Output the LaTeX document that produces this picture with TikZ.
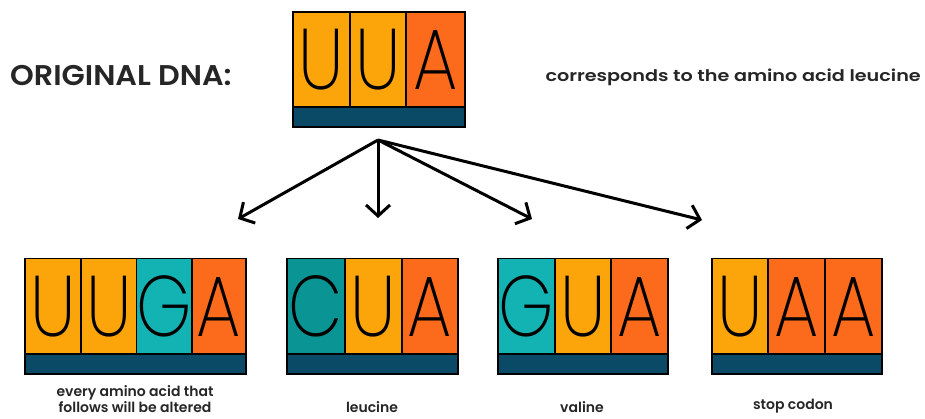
\documentclass[tikz,border=0pt]{standalone}
\usepackage{fontspec}
\setmainfont{Poppins}
\newfontfamily\letterfont[FakeStretch=0.82]{Poppins ExtraLight}
\newfontfamily\labelfont{Poppins SemiBold}
\newfontfamily\widelabelfont[FakeStretch=1.2]{Poppins SemiBold}
\newfontfamily\titlefont[FakeStretch=1.06]{Poppins SemiBold}
\usetikzlibrary{arrows.meta}
\definecolor{cOr}{HTML}{FBA50A}
\definecolor{cRd}{HTML}{FC6A1C}
\definecolor{cTl}{HTML}{14B3B3}
\definecolor{cTd}{HTML}{0B9494}
\definecolor{cBd}{HTML}{0B4A66}
\tikzset{
  cell/.style={draw=black, line width=1.3pt, inner sep=0pt, minimum height=95pt,
    text height=60pt, text depth=0pt,
    font=\letterfont\fontsize{86}{86}\selectfont},
  band/.style={draw=black, line width=1.3pt, fill=cBd, inner sep=0pt, minimum height=20pt},
  caplabel/.style={font=\labelfont\fontsize{14}{16}\selectfont, align=center, text=black!85, inner sep=0pt},
  branch/.style={line width=3pt, -{Straight Barb[length=11pt, width=24pt, line width=3pt]}}
}
\begin{document}
\begin{tikzpicture}[x=1pt,y=-1pt]
\useasboundingbox[fill=white] (0,0) rectangle (925,418);
% top codon
\node[cell, fill=cOr, minimum width=57pt] (t1) at (321.5,59.5) {U};
\node[cell, fill=cOr, minimum width=56pt] (t2) at (378,59.5) {U};
\node[cell, fill=cRd, minimum width=59pt] (t3) at (435.5,59.5) {A};
\node[band, minimum width=172pt] (tb) at (379,117) {};
\node[font=\titlefont\fontsize{28.5}{32}\selectfont, anchor=west, text=black!85, inner sep=0pt] (orig) at (10,76) {ORIGINAL DNA:};
\node[font=\widelabelfont\fontsize{16}{20}\selectfont, anchor=east, text=black!85, inner sep=0pt] (corr) at (921,77) {corresponds to the amino acid leucine};
% box 1
\node[cell, fill=cOr, minimum width=56pt] (a1) at (53,306) {U};
\node[cell, fill=cOr, minimum width=56pt] (a2) at (109,306) {U};
\node[cell, fill=cTl, minimum width=55pt] (a3) at (164.5,306) {G};
\node[cell, fill=cRd, minimum width=54pt] (a4) at (219,306) {A};
\node[band, minimum width=221pt] (ab) at (135.5,364) {};
\node[caplabel] (al) at (135,399) {every amino acid that\\follows will be altered};
% box 2
\node[cell, fill=cTd, minimum width=58pt] (b1) at (316,306) {C};
\node[cell, fill=cOr, minimum width=57pt] (b2) at (373.5,306) {U};
\node[cell, fill=cRd, minimum width=56pt] (b3) at (430,306) {A};
\node[band, minimum width=171pt] (bb) at (372.5,364) {};
\node[caplabel] (bl) at (372,407) {leucine};
% box 3
\node[cell, fill=cTl, minimum width=57pt] (c1) at (526.5,306) {G};
\node[cell, fill=cOr, minimum width=56pt] (c2) at (583,306) {U};
\node[cell, fill=cRd, minimum width=57pt] (c3) at (639.5,306) {A};
\node[band, minimum width=170pt] (cb) at (583,364) {};
\node[caplabel] (cl) at (582,407) {valine};
% box 4
\node[cell, fill=cOr, minimum width=56pt] (d1) at (740,306) {U};
\node[cell, fill=cRd, minimum width=57pt] (d2) at (796.5,306) {A};
\node[cell, fill=cRd, minimum width=57pt] (d3) at (853.5,306) {A};
\node[band, minimum width=170pt] (db) at (797,364) {};
\node[caplabel] (dl) at (793,406) {stop codon};
% arrows
\coordinate (o) at (378,140);
\coordinate (e1) at (238,219);
\coordinate (e2) at (378,218);
\coordinate (e3) at (532,219);
\coordinate (e4) at (702,220);
\foreach \e in {e1,e2,e3,e4} \draw[branch] (o) -- (\e);
\end{tikzpicture}
\end{document}
